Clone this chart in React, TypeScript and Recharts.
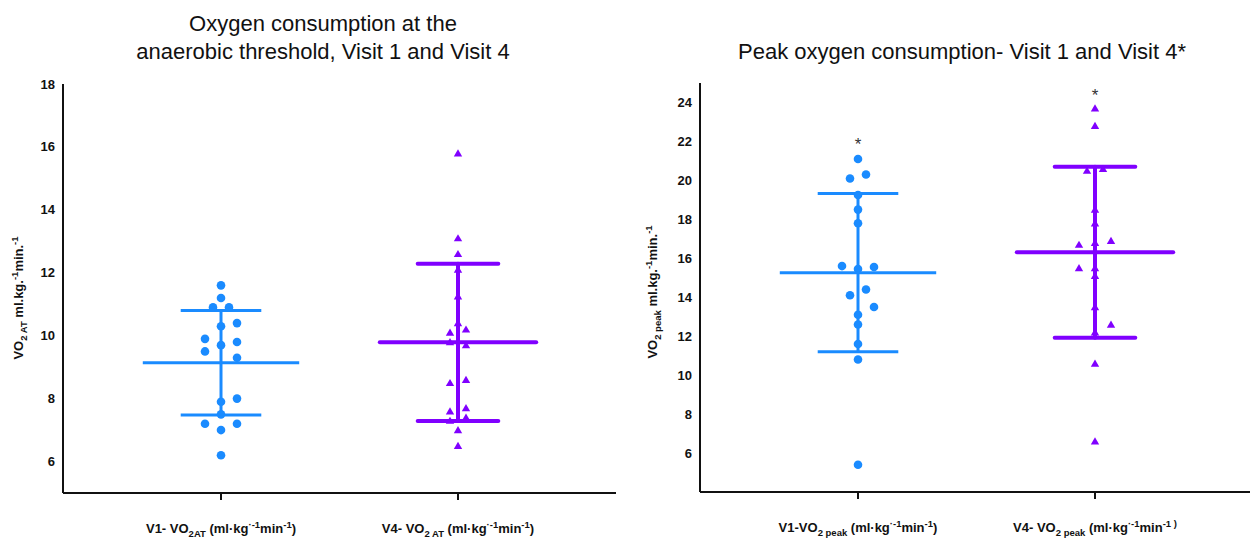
import React from "react";
import { ReferenceLine, Scatter, ScatterChart, XAxis, YAxis } from "recharts";

// group positions on the numeric x axis (V1, V4)
const groupX = [1, 2];

// VO2 at the anaerobic threshold (ml/kg/min)
const v1AtValues = [11.6, 11.2, 10.9, 10.9, 10.4, 10.3, 9.9, 9.8, 9.7, 9.5, 9.3, 8.0, 7.9, 7.5, 7.2, 7.2, 7.0, 6.2];
const v4AtValues = [15.8, 13.1, 12.6, 12.1, 11.25, 10.4, 10.1, 10.2, 9.8, 9.7, 8.5, 8.6, 7.6, 7.7, 7.3, 7.4, 7.0, 6.5];

// peak VO2 (ml/kg/min)
const v1PeakValues = [21.1, 20.1, 20.3, 19.25, 18.5, 17.8, 15.6, 15.45, 15.55, 14.4, 14.1, 13.5, 13.1, 12.6, 11.6, 10.8, 5.4];
const v4PeakValues = [23.7, 22.8, 20.5, 20.6, 18.5, 17.8, 16.8, 16.7, 16.9, 15.5, 15.5, 15.1, 13.5, 12.6, 12.2, 10.6, 6.6];

// mean and SD
const atMeans = [9.14, 9.79];
const atSds = [1.66, 2.5];
const peakMeans = [15.26, 16.31];
const peakSds = [4.06, 4.39];

// significance marks above the peak groups
const peakStarValues = [22.0, 24.55];

const atTicks = [6, 8, 10, 12, 14, 16, 18];
const peakTicks = [6, 8, 10, 12, 14, 16, 18, 20, 22, 24];

// swarm column of every point (in 8px steps), same order as the values
const v1AtSlots = [0, 0, -1, 1, 2, 0, -2, 2, 0, -2, 2, 2, 0, 0, -2, 2, 0, 0];
const v4AtSlots = [0, 0, 0, 0, 0, 0, -1, 1, -1, 1, -1, 1, -1, 1, -1, 1, 0, 0];
const v1PeakSlots = [0, -1, 1, 0, 0, 0, -2, 0, 2, 1, -1, 2, 0, 0, 0, 0, 0];
const v4PeakSlots = [0, 0, -1, 1, 0, 0, 0, -2, 2, -2, 0, 0, 0, 2, 0, 0, 0];

const BLUE = "#1a8bff";
const PURPLE = "#8000ff";
const FONT = "'Liberation Sans', Arial, sans-serif";
const SLOT_PX = 8;
const MEAN_HALF = 0.33;
const CAP_HALF = 0.17;

const toPoints = (values: number[], slots: number[], x: number) =>
  values.map((y, i) => ({ x, y, slot: slots[i] }));

const BlueDot = (props: any) => {
  const { cx, cy, payload } = props;
  if (cx == null || cy == null) return null;
  return <circle cx={cx + payload.slot * SLOT_PX} cy={cy} r={4.3} fill={BLUE} />;
};

const PurpleTriangle = (props: any) => {
  const { cx, cy, payload } = props;
  if (cx == null || cy == null) return null;
  const x = cx + payload.slot * SLOT_PX;
  return (
    <path
      d={`M${x},${cy - 4} L${x + 4.2},${cy + 3.2} L${x - 4.2},${cy + 3.2} Z`}
      fill={PURPLE}
    />
  );
};

const Star = (props: any) => {
  const { cx, cy } = props;
  if (cx == null || cy == null) return null;
  return (
    <text x={cx} y={cy + 9} textAnchor="middle" fontSize={17} fontFamily={FONT} fill="#333">
      *
    </text>
  );
};

const YTick = (props: any) => {
  const { x, y, payload } = props;
  return (
    <text x={x} y={y} dy={4.5} textAnchor="end" fontSize={13} fontWeight="bold" fontFamily={FONT} fill="#111">
      {payload.value}
    </text>
  );
};

const sub = { fontSize: 9.5 };

const makeXTick = (labels: React.ReactNode[]) => (props: any) => {
  const { x, y, payload } = props;
  const idx = groupX.indexOf(payload.value);
  return (
    <text x={x} y={y + 31} textAnchor="middle" fontSize={13} fontWeight="bold" fontFamily={FONT} fill="#111">
      {labels[idx]}
    </text>
  );
};

const atXLabels = [
  <>
    <tspan>V1- VO</tspan>
    <tspan dy={4} {...sub}>2AT</tspan>
    <tspan dy={-4}> (ml·kg</tspan>
    <tspan dy={-5} {...sub}>·-1</tspan>
    <tspan dy={5}>min</tspan>
    <tspan dy={-5} {...sub}>-1</tspan>
    <tspan dy={5}>)</tspan>
  </>,
  <>
    <tspan>V4- VO</tspan>
    <tspan dy={4} {...sub}>2 AT</tspan>
    <tspan dy={-4}> (ml·kg</tspan>
    <tspan dy={-5} {...sub}>·-1</tspan>
    <tspan dy={5}>min</tspan>
    <tspan dy={-5} {...sub}>-1</tspan>
    <tspan dy={5}>)</tspan>
  </>,
];

const peakXLabels = [
  <>
    <tspan>V1-VO</tspan>
    <tspan dy={4} {...sub}>2 peak</tspan>
    <tspan dy={-4}> (ml·kg</tspan>
    <tspan dy={-5} {...sub}>·-1</tspan>
    <tspan dy={5}>min</tspan>
    <tspan dy={-5} {...sub}>-1</tspan>
    <tspan dy={5}>)</tspan>
  </>,
  <>
    <tspan>V4- VO</tspan>
    <tspan dy={4} {...sub}>2 peak</tspan>
    <tspan dy={-4}> (ml·kg</tspan>
    <tspan dy={-5} {...sub}>·-1</tspan>
    <tspan dy={5}>min</tspan>
    <tspan dy={-5} {...sub}>-1 )</tspan>
    <tspan dy={5}></tspan>
  </>,
];

function summaryLines(means: number[], sds: number[], colors: string[], widths: number[], caps: ("butt" | "round")[]) {
  const out: React.ReactNode[] = [];
  means.forEach((m, i) => {
    const x = groupX[i];
    const common = {
      stroke: colors[i],
      strokeWidth: widths[i],
      strokeLinecap: caps[i],
      ifOverflow: "visible" as const,
    };
    out.push(
      <ReferenceLine key={`m${i}`} segment={[{ x: x - MEAN_HALF, y: m }, { x: x + MEAN_HALF, y: m }]} {...common} />,
      <ReferenceLine key={`u${i}`} segment={[{ x: x - CAP_HALF, y: m + sds[i] }, { x: x + CAP_HALF, y: m + sds[i] }]} {...common} />,
      <ReferenceLine key={`l${i}`} segment={[{ x: x - CAP_HALF, y: m - sds[i] }, { x: x + CAP_HALF, y: m - sds[i] }]} {...common} />,
      <ReferenceLine key={`v${i}`} segment={[{ x, y: m - sds[i] }, { x, y: m + sds[i] }]} {...common} />
    );
  });
  return out;
}

const axisStyle = { stroke: "#111", strokeWidth: 2 };

export default function App() {
  const v1At = toPoints(v1AtValues, v1AtSlots, groupX[0]);
  const v4At = toPoints(v4AtValues, v4AtSlots, groupX[1]);
  const v1Peak = toPoints(v1PeakValues, v1PeakSlots, groupX[0]);
  const v4Peak = toPoints(v4PeakValues, v4PeakSlots, groupX[1]);
  const stars = peakStarValues.map((y, i) => ({ x: groupX[i], y }));

  return (
    <div style={{ position: "absolute", left: 0, top: 0, width: 1250, height: 541, overflow: "hidden", background: "#fff", fontFamily: FONT }}>
      <div style={{ position: "absolute", left: 0, top: 0 }}>
        <ScatterChart width={640} height={541} margin={{ top: 84, right: 24, bottom: 8, left: 23 }}>
          <XAxis
            type="number"
            dataKey="x"
            domain={[1 / 3, 8 / 3]}
            ticks={groupX}
            allowDataOverflow
            height={40}
            axisLine={axisStyle}
            tickLine={axisStyle}
            tickSize={7}
            tick={makeXTick(atXLabels)}
          />
          <YAxis
            type="number"
            dataKey="y"
            domain={[5, 18]}
            ticks={atTicks}
            allowDataOverflow
            width={40}
            axisLine={axisStyle}
            tickLine={false}
            tickMargin={2}
            tick={<YTick />}
          />
          <Scatter data={v1At} shape={<BlueDot />} isAnimationActive={false} />
          <Scatter data={v4At} shape={<PurpleTriangle />} isAnimationActive={false} />
          {summaryLines(atMeans, atSds, [BLUE, PURPLE], [3, 4], ["butt", "round"])}
        </ScatterChart>
      </div>
      <div style={{ position: "absolute", left: 640, top: 0 }}>
        <ScatterChart width={615} height={541} margin={{ top: 83, right: 2, bottom: 9, left: 20 }}>
          <XAxis
            type="number"
            dataKey="x"
            domain={[1 / 3, 8 / 3]}
            ticks={groupX}
            allowDataOverflow
            height={40}
            axisLine={axisStyle}
            tickLine={axisStyle}
            tickSize={7}
            tick={makeXTick(peakXLabels)}
          />
          <YAxis
            type="number"
            dataKey="y"
            domain={[4, 25]}
            ticks={peakTicks}
            allowDataOverflow
            width={40}
            axisLine={axisStyle}
            tickLine={false}
            tickMargin={2}
            tick={<YTick />}
          />
          <Scatter data={v1Peak} shape={<BlueDot />} isAnimationActive={false} />
          <Scatter data={v4Peak} shape={<PurpleTriangle />} isAnimationActive={false} />
          <Scatter data={stars} shape={<Star />} isAnimationActive={false} />
          {summaryLines(peakMeans, peakSds, [BLUE, PURPLE], [3, 4], ["butt", "round"])}
        </ScatterChart>
      </div>
      <svg width={1250} height={541} style={{ position: "absolute", left: 0, top: 0, pointerEvents: "none" }}>
        <g fontFamily={FONT} fill="#111">
          <text x={323} y={31} textAnchor="middle" fontSize={22}>Oxygen consumption at the</text>
          <text x={323} y={59} textAnchor="middle" fontSize={22}>anaerobic threshold, Visit 1 and Visit 4</text>
          <text x={962} y={59} textAnchor="middle" fontSize={22}>Peak oxygen consumption- Visit 1 and Visit 4*</text>
          <text x={23} y={298} transform="rotate(-90 23 298)" textAnchor="middle" fontSize={13} fontWeight="bold">
            <tspan>VO</tspan>
            <tspan dy={4} fontSize={9.5}>2 AT</tspan>
            <tspan dy={-4}> ml.kg.</tspan>
            <tspan dy={-5} fontSize={9.5}>-1</tspan>
            <tspan dy={5}>min.</tspan>
            <tspan dy={-5} fontSize={9.5}>-1</tspan>
          </text>
          <text x={657} y={292} transform="rotate(-90 657 292)" textAnchor="middle" fontSize={13} fontWeight="bold">
            <tspan>VO</tspan>
            <tspan dy={4} fontSize={9.5}>2 peak</tspan>
            <tspan dy={-4}> ml.kg.</tspan>
            <tspan dy={-5} fontSize={9.5}>-1</tspan>
            <tspan dy={5}>min.</tspan>
            <tspan dy={-5} fontSize={9.5}>-1</tspan>
          </text>
        </g>
      </svg>
    </div>
  );
}
